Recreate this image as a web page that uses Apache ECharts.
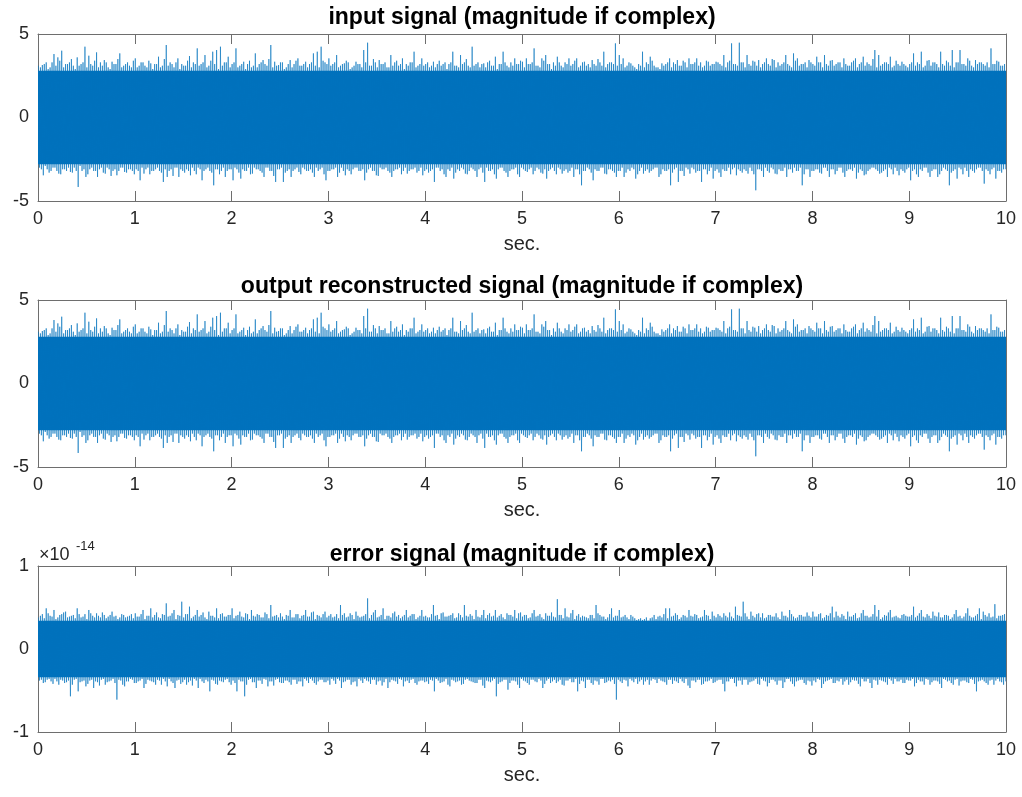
<!DOCTYPE html>
<html>
<head>
<meta charset="utf-8">
<title>Signal reconstruction</title>
<script src="https://cdn.jsdelivr.net/npm/echarts@6/dist/echarts.min.js"></script>
<style>
  html, body { margin: 0; padding: 0; background: #fff; }
  #chart { width: 1022px; height: 797px; }
</style>
</head>
<body>
<div id="chart"></div>
<script>
// Time axis (seconds) and tick values
const tMax = 10;
const xTicks = [0, 1, 2, 3, 4, 5, 6, 7, 8, 9, 10];
const signalTicks = [-5, 0, 5];
const errorTicks = [-1, 0, 1];

// Signal extremes in 0.04 s bins: the largest peak / trough of each bin
// and the next one inside the same bin. The reconstructed output equals
// the input, so both upper panels use these.
const signalHi = [
  3.1, 3.14, 3.3, 3.0, 3.8, 3.6, 4.0, 3.2, 3.3, 3.1, 3.6, 3.2, 4.24, 3.7, 3.1, 3.9, 3.3, 3.44, 3.0, 3.34, 3.2, 3.84, 3.1, 3.3, 3.0,
  3.54, 3.1, 3.3, 3.0, 3.24, 3.2, 3.64, 3.1, 4.34, 3.3, 3.0, 3.54, 3.2, 3.1, 3.68, 3.3, 4.14, 3.2, 3.74, 3.1, 3.94, 4.04, 4.24, 3.3, 3.64,
  3.2, 4.14, 3.1, 3.34, 3.2, 3.0, 3.84, 3.2, 3.44, 3.1, 4.34, 3.34, 3.14, 3.3, 3.0, 3.44, 3.2, 3.54, 3.1, 3.34, 3.2, 3.84, 3.94, 4.24, 3.3,
  3.54, 3.2, 3.74, 3.1, 3.24, 3.3, 3.0, 3.34, 3.2, 4.04, 4.48, 3.1, 3.3, 3.44, 3.2, 3.0, 3.74, 3.3, 3.1, 3.54, 3.2, 3.3, 3.94, 3.1, 3.54,
  3.2, 3.0, 3.34, 3.2, 3.1, 3.3, 3.2, 3.94, 3.1, 3.74, 3.3, 3.1, 4.24, 3.2, 3.0, 3.24, 3.3, 3.1, 3.64, 3.2, 3.94, 3.1, 3.3, 3.54, 3.2,
  3.34, 3.54, 3.2, 4.14, 3.1, 3.54, 3.74, 3.2, 3.3, 3.64, 3.1, 3.3, 3.54, 3.2, 3.54, 3.1, 3.34, 3.2, 3.44, 3.1, 3.3, 3.94, 3.2, 3.3, 4.44,
  3.74, 3.54, 3.1, 3.24, 3.0, 3.2, 3.94, 3.3, 3.64, 3.1, 3.0, 3.24, 3.2, 3.54, 3.3, 3.44, 3.1, 3.3, 3.54, 3.2, 3.54, 3.3, 3.1, 3.34, 3.2,
  3.34, 3.2, 3.74, 3.3, 4.44, 3.2, 4.48, 3.3, 3.74, 3.1, 3.34, 3.44, 3.2, 3.54, 3.1, 3.44, 3.3, 3.2, 3.74, 3.1, 3.84, 3.54, 3.2, 3.3, 3.44,
  3.2, 3.64, 3.3, 3.74, 3.1, 3.44, 3.2, 3.3, 3.54, 3.1, 3.3, 3.54, 3.2, 3.64, 3.3, 3.1, 4.04, 3.74, 3.2, 3.3, 3.64, 3.1, 3.2, 3.34, 3.1,
  3.2, 3.84, 3.3, 3.94, 3.1, 3.44, 3.3, 3.2, 3.94, 3.1, 3.3, 4.04, 3.3, 4.04, 3.2, 3.54, 3.1, 3.44, 3.3, 3.2, 3.3, 4.14, 3.2, 3.34, 3.1
];
const signalLo = [
  -3.0, -3.46, -3.1, -3.2, -3.0, -3.36, -3.1, -3.2, -3.26, -3.0, -4.16, -3.2, -3.56, -3.1, -3.2, -3.56, -3.0, -3.36, -3.1, -3.2, -3.46, -3.0, -3.26, -3.1, -3.2,
  -3.1, -3.76, -3.36, -3.0, -3.2, -3.1, -3.2, -3.86, -3.56, -3.1, -3.0, -3.56, -3.2, -3.1, -3.46, -3.2, -3.0, -3.76, -3.1, -3.2, -4.06, -3.1, -3.2, -3.56, -3.1,
  -3.76, -3.1, -3.66, -3.2, -3.0, -3.36, -3.1, -3.2, -3.56, -3.0, -3.2, -3.86, -3.1, -3.86, -3.2, -3.56, -3.1, -3.26, -3.0, -3.2, -3.1, -3.56, -3.2, -3.0, -3.76,
  -3.2, -3.1, -3.56, -3.0, -3.46, -3.2, -3.1, -3.0, -3.2, -3.76, -3.1, -3.2, -3.46, -3.0, -3.1, -3.2, -3.56, -3.1, -3.0, -3.2, -3.36, -3.1, -3.0, -3.2, -3.46,
  -3.1, -3.2, -3.86, -3.0, -3.1, -3.56, -3.2, -3.66, -3.1, -3.0, -3.36, -3.2, -3.1, -3.56, -3.0, -3.86, -3.2, -3.1, -3.66, -3.0, -3.2, -3.56, -3.1, -3.0, -3.56,
  -3.1, -3.26, -3.0, -3.2, -3.1, -3.36, -3.66, -3.1, -3.2, -3.0, -3.36, -3.1, -3.2, -3.56, -3.1, -4.06, -3.2, -3.1, -3.76, -3.2, -3.0, -3.36, -3.1, -3.2, -3.56,
  -3.2, -3.56, -3.1, -3.0, -3.66, -3.2, -3.36, -3.1, -3.2, -3.0, -3.56, -3.1, -3.2, -4.06, -3.1, -3.86, -3.2, -3.0, -3.36, -3.1, -3.2, -3.86, -3.1, -3.2, -3.66,
  -3.1, -3.56, -3.2, -3.0, -3.1, -3.46, -3.2, -3.1, -3.36, -3.2, -4.36, -3.1, -3.56, -3.2, -3.0, -3.36, -3.1, -3.2, -3.56, -3.1, -3.0, -3.2, -4.06, -3.1, -3.56,
  -3.2, -3.1, -3.36, -3.0, -3.56, -3.1, -3.2, -3.0, -3.56, -3.1, -3.2, -3.66, -3.1, -3.46, -3.2, -3.0, -3.1, -3.36, -3.2, -3.56, -3.1, -3.0, -3.46, -3.2, -3.1,
  -3.76, -3.1, -3.56, -3.2, -3.0, -3.56, -3.1, -3.56, -3.2, -3.1, -4.06, -3.2, -3.66, -3.1, -3.0, -3.56, -3.2, -3.1, -3.0, -3.96, -3.2, -3.1, -3.66, -3.2, -3.1
];
const signalHi2 = [
  3.0, 3.2, 2.9, 3.3, 3.1, 3.4, 3.0, 3.2, 3.5, 2.9, 3.1, 3.3, 3.0, 3.2, 3.4, 3.0, 3.1, 3.3, 2.9, 3.2, 3.5, 3.0, 3.2, 3.1, 3.4,
  3.0, 3.3, 3.1, 3.4, 2.9, 3.2, 3.0, 3.5, 3.1, 3.2, 3.3, 2.9, 3.1, 3.4, 3.0, 3.2, 3.1, 3.3, 3.0, 3.4, 3.2, 2.9, 3.1, 3.3, 3.0,
  3.3, 3.0, 3.2, 2.9, 3.4, 3.1, 3.0, 3.3, 3.2, 3.5, 3.0, 3.1, 3.3, 2.9, 3.2, 3.0, 3.4, 3.1, 3.2, 3.0, 3.3, 3.1, 3.0, 3.4, 3.2,
  3.1, 3.3, 3.0, 3.2, 3.4, 2.9, 3.1, 3.2, 3.0, 3.3, 3.1, 3.5, 3.0, 3.2, 3.3, 3.0, 3.1, 3.4, 3.2, 2.9, 3.1, 3.3, 3.0, 3.2, 3.1,
  3.3, 3.1, 3.0, 3.4, 3.2, 2.9, 3.3, 3.1, 3.0, 3.2, 3.5, 3.0, 3.1, 3.3, 3.2, 3.0, 3.4, 3.1, 2.9, 3.2, 3.3, 3.0, 3.1, 3.2, 3.4,
  3.0, 3.2, 3.3, 3.1, 3.0, 3.4, 3.2, 2.9, 3.1, 3.3, 3.0, 3.2, 3.1, 3.4, 3.0, 3.3, 3.1, 3.0, 3.2, 3.5, 3.1, 3.0, 3.3, 3.2, 3.1,
  3.2, 3.0, 3.3, 3.1, 2.9, 3.1, 3.0, 3.2, 3.4, 3.0, 2.9, 3.1, 3.3, 3.0, 3.2, 3.1, 3.4, 3.0, 3.2, 3.3, 3.1, 3.0, 3.4, 3.1, 3.2,
  3.3, 3.1, 3.0, 3.4, 3.2, 3.1, 3.3, 3.0, 3.2, 3.4, 3.1, 3.0, 3.3, 3.2, 3.5, 3.0, 3.1, 3.3, 3.2, 3.0, 3.4, 3.1, 3.2, 3.0, 3.3,
  3.1, 3.3, 3.0, 3.2, 3.4, 3.1, 3.3, 3.0, 3.2, 3.1, 3.4, 3.0, 3.3, 3.1, 3.2, 3.5, 3.0, 3.1, 3.3, 3.2, 3.0, 3.4, 3.1, 3.2, 3.0,
  3.3, 3.1, 3.2, 3.0, 3.4, 3.1, 3.3, 3.0, 3.2, 3.4, 3.1, 3.0, 3.3, 3.2, 3.1, 3.4, 3.0, 3.2, 3.3, 3.1, 3.0, 3.2, 3.4, 3.1, 3.2
];
const signalLo2 = [
  -3.1, -2.9, -3.3, -3.0, -3.2, -3.4, -3.1, -3.0, -3.3, -3.2, -2.9, -3.1, -3.4, -3.0, -3.2, -3.1, -3.3, -3.0, -3.5, -3.1, -3.2, -3.0, -3.3, -3.1, -3.4,
  -3.2, -3.0, -3.1, -3.4, -3.2, -3.0, -3.3, -3.1, -3.2, -3.5, -3.0, -3.1, -3.3, -3.2, -3.0, -3.4, -3.1, -3.2, -3.0, -3.3, -3.1, -3.4, -3.0, -3.2, -3.1,
  -3.0, -3.3, -3.1, -3.2, -3.4, -3.0, -3.1, -3.3, -3.0, -3.2, -3.5, -3.1, -3.0, -3.3, -3.1, -3.2, -3.0, -3.4, -3.1, -3.2, -3.3, -3.0, -3.1, -3.4, -3.2,
  -3.1, -3.0, -3.3, -3.2, -3.1, -3.4, -3.0, -3.2, -3.1, -3.3, -3.0, -3.2, -3.5, -3.1, -3.0, -3.3, -3.2, -3.1, -3.4, -3.0, -3.2, -3.1, -3.3, -3.0, -3.2,
  -3.3, -3.1, -3.0, -3.2, -3.4, -3.1, -3.0, -3.3, -3.2, -3.1, -3.4, -3.0, -3.2, -3.1, -3.3, -3.0, -3.2, -3.4, -3.1, -3.0, -3.3, -3.2, -3.1, -3.4, -3.0,
  -3.2, -3.1, -3.4, -3.0, -3.3, -3.1, -3.2, -3.0, -3.4, -3.1, -3.2, -3.3, -3.0, -3.1, -3.4, -3.2, -3.0, -3.3, -3.1, -3.2, -3.0, -3.4, -3.1, -3.3, -3.2,
  -3.0, -3.3, -3.2, -3.1, -3.4, -3.0, -3.2, -3.3, -3.1, -3.0, -3.4, -3.2, -3.1, -3.3, -3.0, -3.2, -3.5, -3.1, -3.0, -3.3, -3.2, -3.1, -3.4, -3.0, -3.2,
  -3.3, -3.1, -3.2, -3.4, -3.0, -3.1, -3.3, -3.2, -3.0, -3.4, -3.1, -3.2, -3.0, -3.3, -3.1, -3.4, -3.2, -3.0, -3.1, -3.3, -3.2, -3.0, -3.4, -3.1, -3.2,
  -3.1, -3.3, -3.0, -3.2, -3.1, -3.4, -3.0, -3.3, -3.2, -3.1, -3.0, -3.3, -3.2, -3.4, -3.1, -3.0, -3.2, -3.3, -3.1, -3.0, -3.4, -3.2, -3.1, -3.3, -3.0,
  -3.2, -3.4, -3.1, -3.0, -3.3, -3.2, -3.1, -3.4, -3.0, -3.2, -3.3, -3.1, -3.0, -3.4, -3.2, -3.1, -3.3, -3.0, -3.2, -3.1, -3.4, -3.0, -3.2, -3.3, -3.1
];
// Level up to which the signal fills the band densely
const signalCore = [2.8, -2.8];

// Error extremes in the same bins, in units of 1e-14
const errorHi = [
  0.38, 0.42, 0.49, 0.40, 0.47, 0.38, 0.42, 0.45, 0.39, 0.41, 0.49, 0.38, 0.42, 0.47, 0.40, 0.43, 0.38, 0.41, 0.39, 0.45, 0.40, 0.38, 0.41, 0.39, 0.42,
  0.43, 0.39, 0.47, 0.40, 0.49, 0.41, 0.38, 0.42, 0.55, 0.40, 0.47, 0.41, 0.57, 0.42, 0.51, 0.39, 0.47, 0.41, 0.38, 0.45, 0.40, 0.49, 0.42, 0.39, 0.41,
  0.49, 0.40, 0.45, 0.38, 0.42, 0.47, 0.39, 0.41, 0.38, 0.42, 0.53, 0.40, 0.38, 0.39, 0.41, 0.47, 0.38, 0.42, 0.40, 0.47, 0.39, 0.45, 0.41, 0.38, 0.45,
  0.40, 0.38, 0.42, 0.53, 0.43, 0.39, 0.41, 0.45, 0.38, 0.40, 0.61, 0.41, 0.47, 0.39, 0.49, 0.40, 0.38, 0.45, 0.41, 0.39, 0.47, 0.40, 0.42, 0.38, 0.47,
  0.40, 0.38, 0.53, 0.41, 0.43, 0.39, 0.40, 0.43, 0.38, 0.41, 0.53, 0.39, 0.40, 0.47, 0.38, 0.47, 0.41, 0.39, 0.47, 0.40, 0.38, 0.43, 0.41, 0.47, 0.43,
  0.39, 0.41, 0.38, 0.47, 0.40, 0.38, 0.43, 0.40, 0.39, 0.60, 0.41, 0.49, 0.38, 0.47, 0.40, 0.38, 0.39, 0.37, 0.41, 0.53, 0.41, 0.39, 0.38, 0.49, 0.40,
  0.47, 0.39, 0.38, 0.41, 0.37, 0.36, 0.35, 0.38, 0.37, 0.41, 0.39, 0.38, 0.49, 0.49, 0.40, 0.41, 0.38, 0.40, 0.47, 0.39, 0.41, 0.38, 0.47, 0.40, 0.45,
  0.38, 0.40, 0.43, 0.38, 0.39, 0.51, 0.40, 0.57, 0.39, 0.45, 0.38, 0.43, 0.43, 0.38, 0.41, 0.39, 0.38, 0.45, 0.40, 0.47, 0.39, 0.38, 0.41, 0.39, 0.40,
  0.45, 0.39, 0.43, 0.38, 0.40, 0.51, 0.45, 0.38, 0.40, 0.45, 0.39, 0.43, 0.38, 0.47, 0.40, 0.39, 0.53, 0.47, 0.38, 0.40, 0.47, 0.39, 0.38, 0.41, 0.40,
  0.39, 0.51, 0.40, 0.47, 0.38, 0.40, 0.45, 0.39, 0.38, 0.41, 0.40, 0.38, 0.47, 0.40, 0.39, 0.49, 0.38, 0.40, 0.49, 0.45, 0.39, 0.38, 0.54, 0.40, 0.41
];
const errorLo = [
  -0.38, -0.41, -0.37, -0.39, -0.36, -0.43, -0.38, -0.40, -0.57, -0.37, -0.51, -0.39, -0.45, -0.38, -0.47, -0.40, -0.37, -0.43, -0.39, -0.36, -0.61, -0.38, -0.45, -0.39, -0.37,
  -0.41, -0.38, -0.47, -0.37, -0.39, -0.43, -0.38, -0.36, -0.45, -0.39, -0.47, -0.37, -0.40, -0.43, -0.38, -0.36, -0.47, -0.39, -0.37, -0.51, -0.38, -0.43, -0.39, -0.37, -0.40,
  -0.38, -0.51, -0.39, -0.57, -0.37, -0.40, -0.47, -0.38, -0.36, -0.45, -0.39, -0.37, -0.40, -0.41, -0.38, -0.43, -0.37, -0.39, -0.45, -0.38, -0.36, -0.41, -0.39, -0.37, -0.40,
  -0.43, -0.38, -0.36, -0.47, -0.39, -0.37, -0.40, -0.45, -0.38, -0.36, -0.39, -0.37, -0.43, -0.38, -0.40, -0.47, -0.37, -0.39, -0.36, -0.45, -0.38, -0.37, -0.41, -0.39, -0.38,
  -0.39, -0.37, -0.51, -0.38, -0.40, -0.36, -0.45, -0.38, -0.39, -0.43, -0.37, -0.38, -0.40, -0.41, -0.37, -0.47, -0.39, -0.38, -0.57, -0.40, -0.37, -0.49, -0.38, -0.39, -0.47,
  -0.38, -0.41, -0.37, -0.39, -0.36, -0.47, -0.38, -0.41, -0.37, -0.39, -0.43, -0.38, -0.36, -0.40, -0.51, -0.38, -0.47, -0.37, -0.43, -0.39, -0.36, -0.41, -0.38, -0.37, -0.61,
  -0.39, -0.37, -0.45, -0.38, -0.36, -0.39, -0.43, -0.37, -0.38, -0.37, -0.36, -0.39, -0.43, -0.37, -0.38, -0.41, -0.39, -0.36, -0.47, -0.38, -0.37, -0.43, -0.39, -0.38, -0.41,
  -0.38, -0.37, -0.51, -0.39, -0.36, -0.45, -0.38, -0.37, -0.43, -0.39, -0.36, -0.43, -0.38, -0.45, -0.37, -0.39, -0.38, -0.47, -0.36, -0.39, -0.45, -0.38, -0.37, -0.43, -0.39,
  -0.38, -0.36, -0.47, -0.39, -0.37, -0.41, -0.38, -0.36, -0.39, -0.43, -0.37, -0.38, -0.45, -0.39, -0.36, -0.47, -0.38, -0.37, -0.39, -0.43, -0.38, -0.36, -0.39, -0.41, -0.37,
  -0.38, -0.45, -0.37, -0.39, -0.36, -0.43, -0.38, -0.39, -0.47, -0.37, -0.38, -0.43, -0.36, -0.39, -0.38, -0.41, -0.37, -0.51, -0.38, -0.39, -0.43, -0.37, -0.38, -0.39, -0.43
];
const errorHi2 = [
  0.40, 0.37, 0.43, 0.39, 0.36, 0.41, 0.44, 0.38, 0.40, 0.37, 0.42, 0.39, 0.36, 0.43, 0.38, 0.40, 0.44, 0.37, 0.41, 0.39, 0.36, 0.42, 0.38, 0.40, 0.37,
  0.39, 0.42, 0.36, 0.40, 0.38, 0.44, 0.37, 0.41, 0.39, 0.43, 0.36, 0.40, 0.38, 0.42, 0.37, 0.41, 0.39, 0.44, 0.36, 0.40, 0.38, 0.37, 0.43, 0.39, 0.41,
  0.37, 0.41, 0.39, 0.43, 0.36, 0.40, 0.42, 0.38, 0.44, 0.37, 0.39, 0.41, 0.43, 0.36, 0.40, 0.38, 0.42, 0.37, 0.41, 0.39, 0.44, 0.36, 0.40, 0.42, 0.38,
  0.42, 0.39, 0.37, 0.41, 0.38, 0.43, 0.36, 0.40, 0.39, 0.42, 0.37, 0.44, 0.38, 0.41, 0.36, 0.40, 0.43, 0.39, 0.37, 0.41, 0.38, 0.42, 0.36, 0.40, 0.39,
  0.38, 0.42, 0.40, 0.36, 0.44, 0.39, 0.41, 0.37, 0.43, 0.38, 0.40, 0.42, 0.36, 0.39, 0.41, 0.37, 0.43, 0.40, 0.38, 0.42, 0.36, 0.41, 0.39, 0.37, 0.44,
  0.41, 0.37, 0.43, 0.39, 0.42, 0.36, 0.40, 0.44, 0.38, 0.41, 0.37, 0.39, 0.43, 0.36, 0.42, 0.40, 0.38, 0.41, 0.37, 0.43, 0.39, 0.36, 0.42, 0.38, 0.40,
  0.38, 0.41, 0.36, 0.39, 0.35, 0.37, 0.36, 0.34, 0.38, 0.36, 0.40, 0.42, 0.37, 0.39, 0.43, 0.36, 0.41, 0.38, 0.40, 0.42, 0.37, 0.39, 0.41, 0.36, 0.40,
  0.42, 0.38, 0.40, 0.44, 0.37, 0.41, 0.39, 0.43, 0.36, 0.40, 0.42, 0.38, 0.37, 0.41, 0.39, 0.43, 0.36, 0.40, 0.38, 0.42, 0.37, 0.41, 0.39, 0.44, 0.38,
  0.39, 0.42, 0.37, 0.41, 0.43, 0.38, 0.40, 0.42, 0.36, 0.39, 0.41, 0.37, 0.43, 0.40, 0.38, 0.42, 0.39, 0.36, 0.41, 0.44, 0.38, 0.40, 0.37, 0.42, 0.39,
  0.41, 0.38, 0.43, 0.39, 0.42, 0.37, 0.40, 0.44, 0.38, 0.41, 0.36, 0.42, 0.39, 0.37, 0.43, 0.40, 0.38, 0.42, 0.36, 0.41, 0.43, 0.39, 0.37, 0.40, 0.42
];
const errorLo2 = [
  -0.37, -0.40, -0.36, -0.42, -0.39, -0.37, -0.41, -0.38, -0.43, -0.36, -0.40, -0.38, -0.42, -0.37, -0.39, -0.44, -0.36, -0.40, -0.38, -0.41, -0.37, -0.43, -0.39, -0.36, -0.41,
  -0.39, -0.36, -0.42, -0.38, -0.40, -0.37, -0.43, -0.39, -0.36, -0.41, -0.38, -0.42, -0.37, -0.40, -0.44, -0.38, -0.36, -0.41, -0.39, -0.37, -0.42, -0.38, -0.40, -0.36, -0.43,
  -0.41, -0.37, -0.39, -0.43, -0.36, -0.40, -0.38, -0.42, -0.37, -0.39, -0.44, -0.36, -0.41, -0.38, -0.40, -0.37, -0.42, -0.39, -0.36, -0.41, -0.38, -0.43, -0.37, -0.40, -0.38,
  -0.36, -0.42, -0.38, -0.40, -0.37, -0.43, -0.39, -0.36, -0.41, -0.38, -0.42, -0.37, -0.39, -0.44, -0.36, -0.40, -0.38, -0.42, -0.37, -0.39, -0.41, -0.36, -0.43, -0.38, -0.40,
  -0.42, -0.38, -0.36, -0.41, -0.39, -0.43, -0.37, -0.40, -0.38, -0.42, -0.36, -0.39, -0.41, -0.37, -0.44, -0.38, -0.40, -0.36, -0.42, -0.39, -0.37, -0.41, -0.38, -0.43, -0.36,
  -0.39, -0.43, -0.37, -0.40, -0.38, -0.42, -0.36, -0.39, -0.41, -0.37, -0.44, -0.38, -0.40, -0.36, -0.42, -0.39, -0.37, -0.41, -0.38, -0.43, -0.36, -0.40, -0.39, -0.42, -0.37,
  -0.41, -0.38, -0.36, -0.40, -0.42, -0.37, -0.39, -0.43, -0.36, -0.41, -0.38, -0.40, -0.37, -0.42, -0.39, -0.36, -0.41, -0.44, -0.38, -0.40, -0.37, -0.42, -0.39, -0.36, -0.40,
  -0.37, -0.42, -0.39, -0.36, -0.41, -0.38, -0.43, -0.37, -0.40, -0.38, -0.42, -0.36, -0.39, -0.41, -0.37, -0.43, -0.38, -0.40, -0.36, -0.42, -0.39, -0.37, -0.41, -0.38, -0.44,
  -0.40, -0.37, -0.42, -0.38, -0.36, -0.41, -0.39, -0.43, -0.37, -0.40, -0.38, -0.42, -0.36, -0.39, -0.41, -0.37, -0.43, -0.38, -0.40, -0.36, -0.42, -0.39, -0.37, -0.41, -0.38,
  -0.36, -0.41, -0.39, -0.43, -0.37, -0.40, -0.38, -0.42, -0.36, -0.39, -0.41, -0.37, -0.44, -0.38, -0.40, -0.36, -0.42, -0.39, -0.37, -0.41, -0.38, -0.43, -0.36, -0.40, -0.39
];
const errorCore = [0.34, -0.34];

const panelTitles = [
  'input signal (magnitude if complex)',
  'output reconstructed signal (magnitude if complex)',
  'error signal (magnitude if complex)'
];
const xName = 'sec.';
const errorExponent = '-14';

// ---- drawing ----
const LINE = '#0072BD';
const AXIS = '#6e6e6e';
const TEXT = '#262626';
const FONT = '"Liberation Sans", Arial, Helvetica, sans-serif';

// Walk through each bin: main peak, main trough, second peak, second trough,
// so the trace sweeps across the band like the densely sampled signal.
function trace(hi, lo, hi2, lo2) {
  const bw = tMax / hi.length;
  const pts = [];
  for (let i = 0; i < hi.length; i++) {
    pts.push([(i + 0.125) * bw, hi[i]]);
    pts.push([(i + 0.375) * bw, lo[i]]);
    pts.push([(i + 0.625) * bw, hi2[i]]);
    pts.push([(i + 0.875) * bw, lo2[i]]);
  }
  return pts;
}

const grids = [
  { left: 38, right: 16, top: 34, height: 167 },
  { left: 38, right: 16, top: 300, height: 167 },
  { left: 38, right: 16, top: 566, height: 166 }
];

const xAxes = [];
const yAxes = [];
const series = [];

const panels = [
  { hi: signalHi, lo: signalLo, hi2: signalHi2, lo2: signalLo2, core: signalCore, ticks: signalTicks },
  { hi: signalHi, lo: signalLo, hi2: signalHi2, lo2: signalLo2, core: signalCore, ticks: signalTicks },
  { hi: errorHi, lo: errorLo, hi2: errorHi2, lo2: errorLo2, core: errorCore, ticks: errorTicks }
];

function boxAxis(extra) {
  return Object.assign({
    type: 'value',
    axisLine: { show: true, onZero: false, lineStyle: { color: AXIS, width: 1 } },
    axisTick: { show: true, inside: true, length: 10, lineStyle: { color: AXIS } },
    splitLine: { show: false }
  }, extra);
}

panels.forEach((p, g) => {
  const yMin = p.ticks[0], yMax = p.ticks[p.ticks.length - 1];
  const yStep = p.ticks[1] - p.ticks[0];
  const xr = { min: xTicks[0], max: xTicks[xTicks.length - 1], interval: xTicks[1] - xTicks[0] };
  const yr = { min: yMin, max: yMax, interval: yStep };

  xAxes.push(boxAxis(Object.assign({
    gridIndex: g, position: 'bottom',
    axisLabel: { show: true, color: TEXT, fontSize: 18, fontFamily: FONT, margin: 9 },
    name: xName, nameLocation: 'middle', nameGap: 33,
    nameTextStyle: { color: TEXT, fontSize: 20, fontFamily: FONT }
  }, xr)));
  xAxes.push(boxAxis(Object.assign({ gridIndex: g, position: 'top', axisLabel: { show: false } }, xr)));
  yAxes.push(boxAxis(Object.assign({
    gridIndex: g, position: 'left',
    axisLabel: { show: true, color: TEXT, fontSize: 18, fontFamily: FONT, margin: 9 }
  }, yr)));
  yAxes.push(boxAxis(Object.assign({ gridIndex: g, position: 'right', axisLabel: { show: false } }, yr)));

  const xi = g * 2, yi = g * 2;
  // dense body of the trace, filled from the lower to the upper level
  series.push({
    type: 'line', xAxisIndex: xi, yAxisIndex: yi,
    data: [[xTicks[0], p.core[0]], [xTicks[xTicks.length - 1], p.core[0]]],
    showSymbol: false, silent: true, z: 2,
    lineStyle: { width: 0 },
    areaStyle: { color: LINE, opacity: 1, origin: p.core[1] }
  });
  // sampled trace through the bin extremes
  series.push({
    type: 'line', xAxisIndex: xi, yAxisIndex: yi,
    data: trace(p.hi, p.lo, p.hi2, p.lo2),
    showSymbol: false, sampling: null, silent: true, z: 3,
    lineStyle: { color: LINE, width: 1, opacity: 0.6, join: 'bevel' }
  });
});

const graphic = [];
const titleY = [18, 287, 555];
panelTitles.forEach((t, i) => {
  graphic.push({
    type: 'text', x: 522, y: titleY[i], z: 10,
    style: { text: t, fill: '#000', font: 'bold 23px ' + FONT, textAlign: 'center', textVerticalAlign: 'middle' }
  });
});
// exponent marker of the error axis
graphic.push({
  type: 'text', x: 39, y: 555, z: 10,
  style: { text: '\u00d710', fill: TEXT, font: '18px ' + FONT, textAlign: 'left', textVerticalAlign: 'middle' }
});
graphic.push({
  type: 'text', x: 76, y: 546, z: 10,
  style: { text: errorExponent, fill: TEXT, font: '13px ' + FONT, textAlign: 'left', textVerticalAlign: 'middle' }
});

const chart = echarts.init(document.getElementById('chart'), null, { renderer: 'canvas' });
chart.setOption({
  animation: false,
  backgroundColor: '#fff',
  grid: grids,
  xAxis: xAxes,
  yAxis: yAxes,
  series: series,
  graphic: graphic
});
</script>
</body>
</html>
